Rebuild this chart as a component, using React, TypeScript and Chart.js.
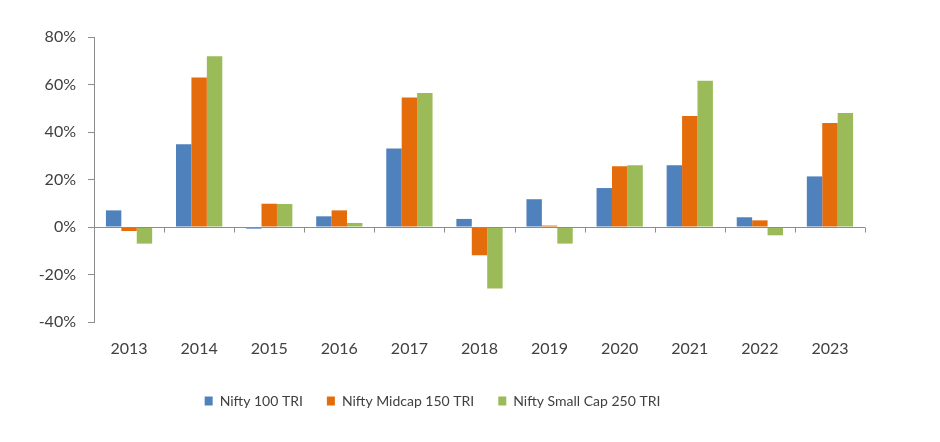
import React, { useEffect, useRef } from "react";
import { Chart, registerables } from "chart.js";

Chart.register(...registerables);

const categories = ["2013", "2014", "2015", "2016", "2017", "2018", "2019", "2020", "2021", "2022", "2023"];
const nifty100 = [7.0, 34.8, -0.7, 4.5, 33.1, 3.4, 11.7, 16.4, 26.0, 4.1, 21.3];
const midcap150 = [-1.7, 62.9, 9.8, 7.0, 54.5, -11.9, 0.6, 25.6, 46.7, 2.8, 43.8];
const smallcap250 = [-7.0, 71.9, 9.7, 1.7, 56.4, -25.9, -7.0, 26.0, 61.6, -3.5, 48.0];
const seriesNames = ["Nifty 100 TRI", "Nifty Midcap 150 TRI", "Nifty Small Cap 250 TRI"];
const seriesColors = ["#4F81BD", "#E46C0A", "#9BBB59"];
const yMin = -40;
const yMax = 80;
const yStep = 20;

const FONT = "Lato, 'Noto Sans', sans-serif";
const AXIS_COLOR = "#8C8C8C";

const zeroAxisPlugin = {
  id: "zeroAxis",
  afterDatasetsDraw(chart: any) {
    const { ctx, chartArea, scales } = chart;
    const x = scales.x;
    const y = scales.y;
    const y0 = Math.round(y.getPixelForValue(0)) + 0.5;
    ctx.save();
    ctx.strokeStyle = AXIS_COLOR;
    ctx.lineWidth = 1;
    ctx.beginPath();
    ctx.moveTo(chartArea.left, y0);
    ctx.lineTo(chartArea.right, y0);
    const n = x.ticks.length;
    for (let i = 1; i <= n; i++) {
      const px = Math.round(x.getPixelForValue(i - 0.5)) + 0.5;
      ctx.moveTo(px, y0);
      ctx.lineTo(px, y0 + 5);
    }
    ctx.stroke();
    ctx.restore();
  },
};

export default function App() {
  const ref = useRef<HTMLCanvasElement | null>(null);

  useEffect(() => {
    document.body.style.margin = "0";
    const canvas = ref.current;
    if (!canvas) return;
    const data = [nifty100, midcap150, smallcap250];
    const chart = new Chart(canvas, {
      type: "bar",
      data: {
        labels: categories,
        datasets: data.map((d, i) => ({
          label: seriesNames[i],
          data: d,
          backgroundColor: seriesColors[i],
          borderWidth: 0,
          categoryPercentage: 0.66,
          barPercentage: 1.0,
        })),
      },
      plugins: [zeroAxisPlugin],
      options: {
        animation: false,
        responsive: false,
        maintainAspectRatio: false,
        layout: { padding: { top: 37, right: 75, bottom: 24, left: 0 } },
        plugins: {
          tooltip: { enabled: false },
          legend: {
            position: "bottom",
            labels: {
              boxWidth: 8,
              boxHeight: 9,
              padding: 24,
              color: "#404040",
              font: { family: FONT, size: 14 },
            },
          },
        },
        scales: {
          x: {
            grid: { display: false, drawTicks: false },
            border: { display: false },
            ticks: {
              color: "#404040",
              padding: 17,
              font: { family: FONT, size: 16 },
              maxRotation: 0,
            },
            afterFit(scale: any) {
              scale.height = 48;
            },
          },
          y: {
            min: yMin,
            max: yMax,
            grid: {
              drawOnChartArea: false,
              drawTicks: true,
              tickLength: 6,
              color: AXIS_COLOR,
            },
            border: { display: true, color: AXIS_COLOR },
            ticks: {
              stepSize: yStep,
              padding: 12,
              color: "#404040",
              font: { family: FONT, size: 16 },
              callback: (v: any) => `${v}%`,
            },
            afterFit(scale: any) {
              scale.width = 94;
            },
          },
        },
      },
    });
    return () => chart.destroy();
  }, []);

  return (
    <div style={{ position: "fixed", left: 0, top: 0, width: 940, height: 442, background: "#fff" }}>
      <canvas ref={ref} width={940} height={442} style={{ width: 940, height: 442 }} />
    </div>
  );
}
